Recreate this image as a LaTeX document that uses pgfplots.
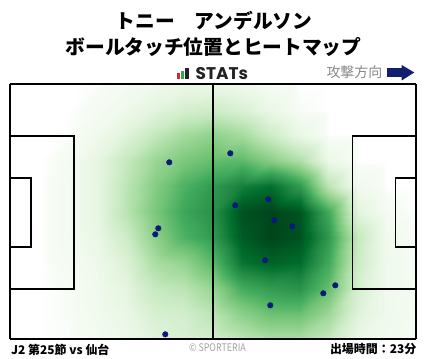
\documentclass[border=0pt]{standalone}
\usepackage{pgfplots}
\pgfplotsset{compat=1.18}
\usepackage{fontspec}
\usepackage{graphicx}
\setmainfont{Noto Sans CJK JP}
\newfontfamily\poppins{Poppins}
\definecolor{dotblue}{RGB}{10,26,122}
\definecolor{navy}{RGB}{16,32,110}
\definecolor{lgray}{RGB}{136,136,136}
\definecolor{cgray}{RGB}{160,160,160}
\definecolor{ired}{RGB}{217,35,42}
\definecolor{igreen}{RGB}{47,168,79}
\definecolor{idark}{RGB}{34,34,34}
\begin{document}
\begin{tikzpicture}
\path[use as bounding box] (0,0) rectangle (428bp,359bp);
\begin{axis}[at={(10bp,20bp)}, anchor=south west, scale only axis,
  width=406bp, height=255bp,
  xmin=10, xmax=416, ymin=84, ymax=339, zmin=0, zmax=2,
  y dir=reverse, view={0}{90},
  xtick=\empty, ytick=\empty, ztick=\empty,
  axis line style={line width=1.5bp, black},
  colormap={greens}{rgb255(0pt)=(255,255,255) rgb255(1pt)=(247,252,245) rgb255(12pt)=(229,245,224) rgb255(25pt)=(199,233,192) rgb255(37pt)=(161,217,155) rgb255(50pt)=(116,196,118) rgb255(62pt)=(65,171,93) rgb255(75pt)=(35,139,69) rgb255(87pt)=(0,109,44) rgb255(100pt)=(0,68,27)},
  point meta min=0, point meta max=1, clip=true]
\addplot3[surf, shader=interp, mesh/cols=15, point meta=\thisrow{z}] table {
x y z
10 84 0
39 84 0
68 84 0
97 84 0.005
126 84 0.03
155 84 0.055
184 84 0.08
213 84 0.08
242 84 0.055
271 84 0.02
300 84 0
329 84 0
358 84 0
387 84 0
416 84 0
10 109.5 0
39 109.5 0
68 109.5 0
97 109.5 0.02
126 109.5 0.065
155 109.5 0.13
184 109.5 0.19
213 109.5 0.22
242 109.5 0.17
271 109.5 0.08
300 109.5 0.01
329 109.5 0
358 109.5 0
387 109.5 0
416 109.5 0
10 135 0
39 135 0
68 135 0.005
97 135 0.055
126 135 0.145
155 135 0.26
184 135 0.36
213 135 0.42
242 135 0.36
271 135 0.22
300 135 0.09
329 135 0
358 135 0
387 135 0
416 135 0
10 160.5 0
39 160.5 0
68 160.5 0.02
97 160.5 0.11
126 160.5 0.25
155 160.5 0.39
184 160.5 0.48
213 160.5 0.54
242 160.5 0.56
271 160.5 0.45
300 160.5 0.33
329 160.5 0.08
358 160.5 0
387 160.5 0
416 160.5 0
10 186 0
39 186 0
68 186 0.03
97 186 0.11
126 186 0.28
155 186 0.45
184 186 0.59
213 186 0.69
242 186 0.8
271 186 0.86
300 186 0.69
329 186 0.28
358 186 0.045
387 186 0
416 186 0
10 211.5 0
39 211.5 0
68 211.5 0.03
97 211.5 0.11
126 211.5 0.29
155 211.5 0.48
184 211.5 0.64
213 211.5 0.73
242 211.5 0.96
271 211.5 1.0
300 211.5 0.95
329 211.5 0.62
358 211.5 0.13
387 211.5 0.02
416 211.5 0
10 237 0
39 237 0
68 237 0.03
97 237 0.09
126 237 0.22
155 237 0.43
184 237 0.59
213 237 0.69
242 237 0.93
271 237 1.0
300 237 0.96
329 237 0.69
358 237 0.25
387 237 0.055
416 237 0.01
10 262.5 0
39 262.5 0
68 262.5 0.02
97 262.5 0.065
126 262.5 0.155
155 262.5 0.34
184 262.5 0.41
213 262.5 0.56
242 262.5 0.84
271 262.5 0.9
300 262.5 0.87
329 262.5 0.62
358 262.5 0.22
387 262.5 0.055
416 262.5 0.02
10 288 0
39 288 0
68 288 0.01
97 288 0.055
126 288 0.12
155 288 0.25
184 288 0.29
213 288 0.4
242 288 0.62
271 288 0.69
300 288 0.72
329 288 0.53
358 288 0.19
387 288 0.055
416 288 0.03
10 313.5 0
39 313.5 0
68 313.5 0.01
97 313.5 0.045
126 313.5 0.09
155 313.5 0.18
184 313.5 0.2
213 313.5 0.29
242 313.5 0.43
271 313.5 0.52
300 313.5 0.52
329 313.5 0.38
358 313.5 0.145
387 313.5 0.055
416 313.5 0.03
10 339 0
39 339 0
68 339 0.005
97 339 0.03
126 339 0.065
155 339 0.145
184 339 0.17
213 339 0.21
242 339 0.28
271 339 0.34
300 339 0.34
329 339 0.25
358 339 0.09
387 339 0.045
416 339 0.02
};
% pitch lines
\addplot3[black, line width=1.8bp, mark=none] coordinates {(213,84,1) (213,339,1)};
\addplot3[black, line width=1.6bp, mark=none] coordinates {(10,135.7,1) (74,135.7,1) (74,289,1) (10,289,1)};
\addplot3[black, line width=1.6bp, mark=none] coordinates {(10,177.7,1) (31,177.7,1) (31,246.7,1) (10,246.7,1)};
\addplot3[black, line width=1.6bp, mark=none] coordinates {(416,135.7,1) (352.7,135.7,1) (352.7,289,1) (416,289,1)};
\addplot3[black, line width=1.6bp, mark=none] coordinates {(416,177.7,1) (395.7,177.7,1) (395.7,246.7,1) (416,246.7,1)};
% touches
\addplot3[only marks, mark=*, mark size=2.8bp, color=dotblue] coordinates {
(169.3,162.3,1) (158.3,228.3,1) (155.3,234.3,1) (165.3,334.3,1)
(230.3,153.3,1) (235.3,205.3,1) (268.3,199.3,1) (274.3,220.3,1)
(292.3,226.3,1) (265,260.3,1) (335.3,285.3,1) (323.3,293.3,1) (270.3,305.3,1)
};
\end{axis}
\begin{scope}[x=1bp,y=-1bp,shift={(0bp,359bp)}]
\node[inner sep=0, font=\fontsize{19.8}{22}\selectfont\bfseries] at (214,20.5) {トニー　アンデルソン};
\node[inner sep=0, font=\fontsize{19.8}{22}\selectfont\bfseries] at (213.5,46.5) {ボールタッチ位置とヒートマップ};
\fill[ired] (176.7,79) rectangle (180,73.5);
\fill[igreen] (180.8,79) rectangle (184.1,71.5);
\fill[idark] (185.4,79) rectangle (188.7,68);
\node[inner sep=0, anchor=west, text=idark, font=\poppins\fontsize{17}{19}\selectfont\bfseries] at (195.5,73.5) {STATs};
\node[inner sep=0, anchor=east, text=lgray, font=\fontsize{14}{16}\selectfont] at (382.5,72.5) {攻撃方向};
\fill[navy] (387,68.3) rectangle (402.5,76.7);
\fill[navy] (401.7,65) -- (414.3,72.5) -- (401.7,80.5) -- cycle;
\node[inner sep=0, anchor=west, font=\fontsize{12}{14}\selectfont\bfseries] at (11,349.5) {J2 第25節 vs 仙台};
\node[inner sep=0, text=cgray, font=\fontsize{10.5}{12}\selectfont] at (217.5,348) {\scalebox{0.85}[1]{© SPORTERIA}};
\node[inner sep=0, anchor=east, font=\fontsize{12}{14}\selectfont\bfseries] at (416.5,349.5) {出場時間：23分};
\end{scope}
\end{tikzpicture}
\end{document}
